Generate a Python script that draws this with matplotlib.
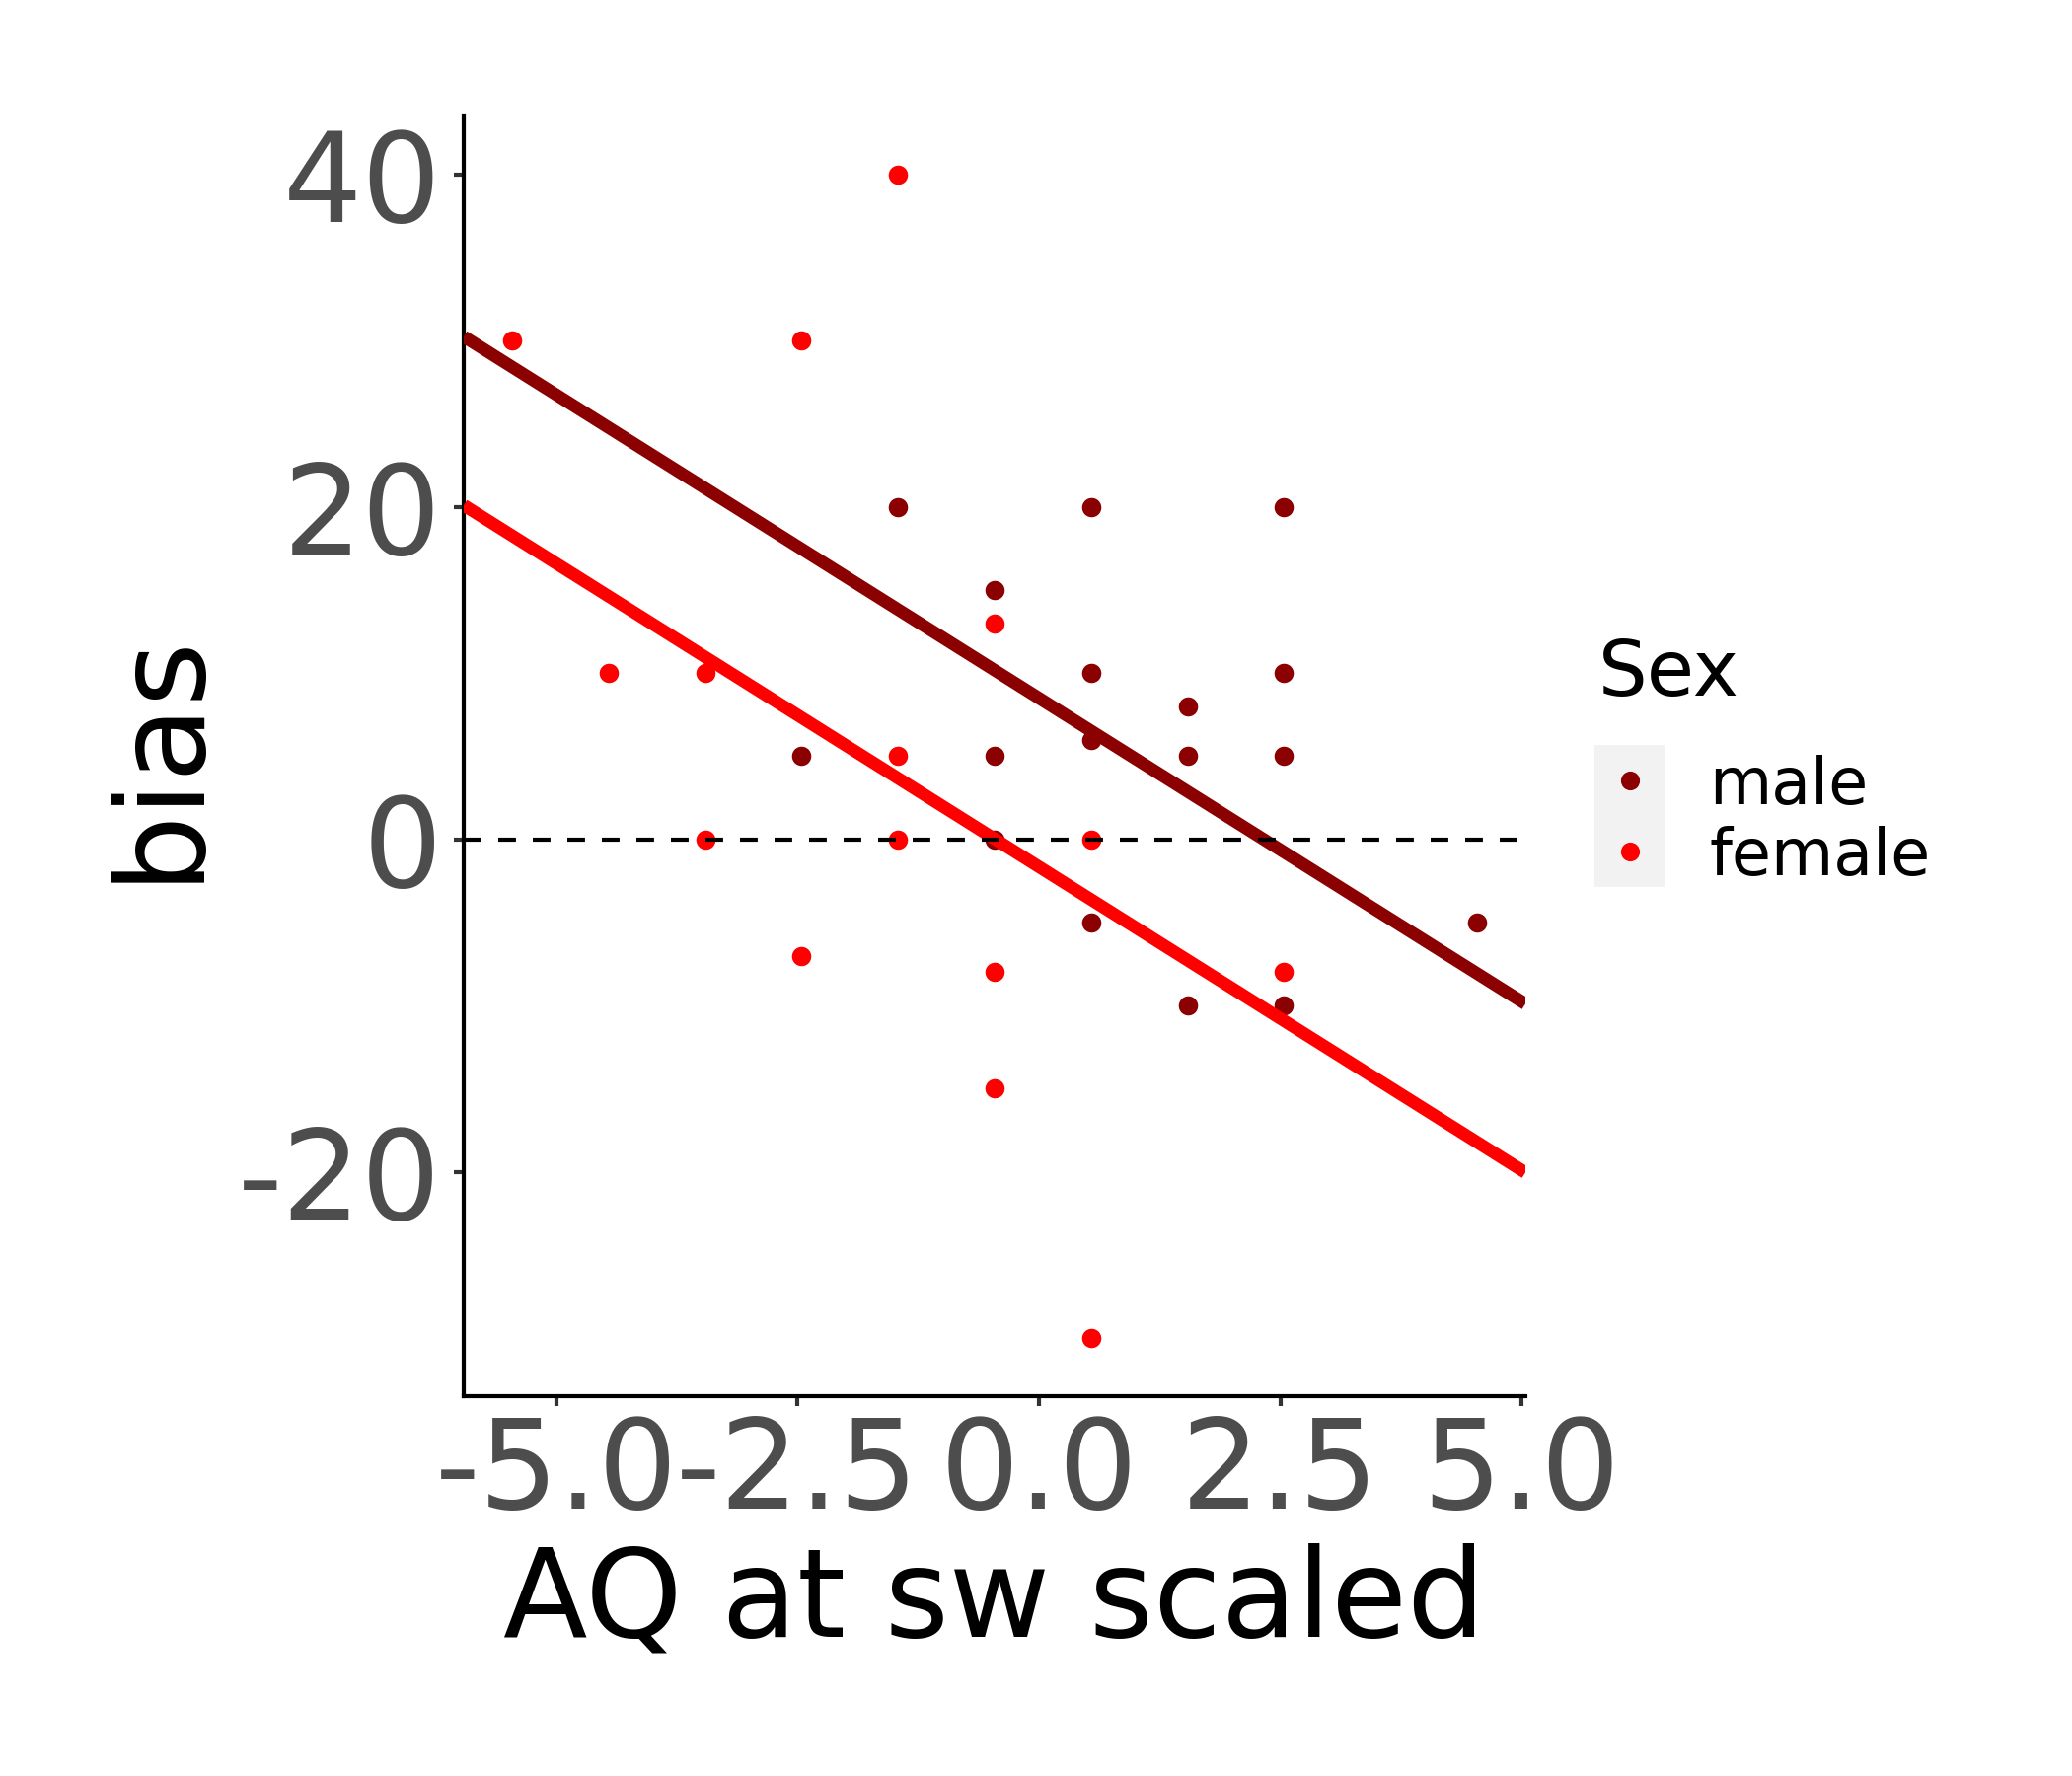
import matplotlib
matplotlib.use("Agg")
import matplotlib.pyplot as plt
from matplotlib.patches import Rectangle

plt.rcParams['font.family'] = ['DejaVu Sans']
plt.rcParams['axes.unicode_minus'] = False

# data
sexes = ['male', 'female']
colors = {'male': '#8B0000', 'female': '#FF0000'}

aq_male = [-2.46, -1.46, -0.46, -0.46, -0.46, 0.54, 0.54, 0.54, 0.54,
           1.54, 1.54, 1.54, 2.54, 2.54, 2.54, 2.54, 4.54]
bias_male = [5, 20, 15, 5, 0, 20, 10, 6, -5, 8, 5, -10, 20, 10, 5, -10, -5]

aq_female = [-5.46, -4.46, -3.46, -3.46, -2.46, -2.46, -1.46, -1.46, -1.46,
             -0.46, -0.46, -0.46, 0.54, 0.54, 2.54]
bias_female = [30, 10, 10, 0, 30, -7, 40, 5, 0, 13, -8, -15, 0, -30, -8]

# fitted lines (common slope, per-sex intercept)
fit_slope = -3.65
fit_intercept = {'male': 8.5, 'female': -1.65}

x_ticks = [-5.0, -2.5, 0.0, 2.5, 5.0]
x_ticklabels = ['-5.0', '-2.5', '0.0', '2.5', '5.0']
y_ticks = [-20, 0, 20, 40]
y_ticklabels = ['-20', '0', '20', '40']

points = {'male': (aq_male, bias_male), 'female': (aq_female, bias_female)}

W, H = 2100, 1800
fig = plt.figure(figsize=(7, 6), dpi=300)
ax = fig.add_axes([470 / W, 1 - 1415 / H, (1546 - 470) / W, (1415 - 118) / H])

# ggplot-like 5% expansion of the data range
all_x = aq_male + aq_female
all_y = bias_male + bias_female
xr = max(all_x) - min(all_x)
yr = max(all_y) - min(all_y)
xlim = (min(all_x) - 0.05 * xr, max(all_x) + 0.05 * xr)
ylim = (min(all_y) - 0.05 * yr, max(all_y) + 0.05 * yr)
ax.set_xlim(xlim)
ax.set_ylim(ylim)

for s in sexes:
    xs, ys = points[s]
    ax.scatter(xs, ys, s=22, color=colors[s], linewidths=0, zorder=2)

for s in ['male', 'female']:
    y0 = fit_intercept[s] + fit_slope * xlim[0]
    y1 = fit_intercept[s] + fit_slope * xlim[1]
    ax.plot(xlim, [y0, y1], color=colors[s], lw=3.05, solid_capstyle='butt', zorder=3)

ax.axhline(0, color='black', lw=1.0, dashes=(4.3, 4.1), zorder=4)

for side in ['top', 'right']:
    ax.spines[side].set_visible(False)
for side in ['left', 'bottom']:
    ax.spines[side].set_linewidth(1.0)
    ax.spines[side].set_color('black')

ax.set_xticks(x_ticks)
ax.set_xticklabels(x_ticklabels)
ax.set_yticks(y_ticks)
ax.set_yticklabels(y_ticklabels)
ax.tick_params(axis='both', length=2.4, width=1.0, color='#333333',
               labelcolor='#4D4D4D', labelsize=30.3)
ax.tick_params(axis='x', pad=2)
ax.tick_params(axis='y', pad=3)

ax.set_xlabel('AQ at sw scaled', fontsize=30, color='black', labelpad=2)
ax.set_ylabel('bias', fontsize=30, color='black', labelpad=4.5)

# legend drawn in its own pixel-based axes
lax = fig.add_axes([1600 / W, 1 - 910 / H, 400 / W, 290 / H])
lax.set_xlim(0, 400)
lax.set_ylim(290, 0)
lax.axis('off')
lax.text(20, 85, 'Sex', fontsize=18.8, va='baseline', ha='left')
for i, s in enumerate(sexes):
    top = 135 + i * 72
    lax.add_patch(Rectangle((16, top), 72, 72, facecolor='#F2F2F2', edgecolor='none'))
    lax.plot([52], [top + 36], 'o', ms=4.6, color=colors[s], mew=0)
    lax.text(132, top + 60, s, fontsize=15.6, va='baseline', ha='left')

fig.savefig('out.png', dpi=300, facecolor='white')
